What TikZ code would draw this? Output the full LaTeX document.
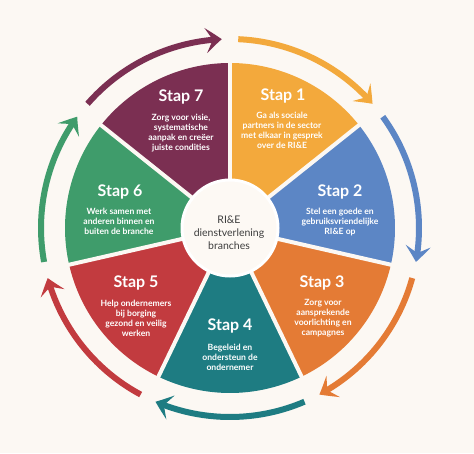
\documentclass[tikz,border=0pt]{standalone}
\usepackage{fontspec}
\setmainfont{Lato}
\usetikzlibrary{arrows.meta,bending}
\definecolor{bg}{HTML}{FCF8F3}
\definecolor{cfill}{HTML}{FDF9F4}
\definecolor{ctext}{HTML}{3D3D3D}
\definecolor{c1}{HTML}{F3A93C}
\definecolor{c2}{HTML}{5C86C5}
\definecolor{c3}{HTML}{E47B35}
\definecolor{c4}{HTML}{1E7C82}
\definecolor{c5}{HTML}{C23B3F}
\definecolor{c6}{HTML}{3F9C6B}
\definecolor{c7}{HTML}{7B2F52}
\begin{document}
\begin{tikzpicture}[x=1pt,y=1pt,
  steptitle/.style={text=white,font=\bfseries\fontsize{16}{18}\selectfont,inner sep=0pt,anchor=base},
  stepdesc/.style={text=white,font=\bfseries\fontsize{8.6}{10}\selectfont,align=center,inner sep=0pt},
  ring/.style={line width=6pt,-{Stealth[length=16pt,width=25pt,inset=7pt,bend]}}]
\useasboundingbox (0,0) rectangle (474,453);
\fill[bg] (0,0) rectangle (474,453);
\coordinate (C) at (230,225);
\def\R{165}
\def\Ra{189}
% sectors
\foreach \s/\c in {90/c1, 38.5714/c2, -12.8571/c3, -64.2857/c4, -115.7143/c5, -167.1429/c6, 141.4286/c7}{
  \fill[\c] (C) -- ([shift={(C)}]\s:\R) arc[start angle=\s, end angle=\s-51.4286, radius=\R] -- cycle;
}
% dividers
\foreach \s in {90, 38.5714, -12.8571, -64.2857, -115.7143, -167.1429, 141.4286}{
  \draw[bg, line width=4pt] (C) -- ([shift={(C)}]\s:\R+5);
}
% ring arrows
\foreach \s/\c in {90/c1, 38.5714/c2, -12.8571/c3, -64.2857/c4, -115.7143/c5, -167.1429/c6, 141.4286/c7}{
  \draw[ring,\c] ([shift={(C)}]\s-2.5:\Ra) arc[start angle=\s-2.5, end angle=\s-48.9286, radius=\Ra];
}
% centre
\node[circle, fill=cfill, draw=white, line width=3pt, minimum size=96pt, inner sep=0pt] (ctr) at (C) {};
\node[text=ctext, font=\fontsize{10.5}{13}\selectfont, align=center, inner sep=0pt] (ctxt) at (229,220) {RI\&E\\dienstverlening\\branches};
% titles
\node[steptitle] (t7) at (181,351.2) {Stap 7};
\node[steptitle] (t1) at (283,352.2) {Stap 1};
\node[steptitle] (t2) at (340,256.2) {Stap 2};
\node[steptitle] (t3) at (322,165.2) {Stap 3};
\node[steptitle] (t4) at (230,122.2) {Stap 4};
\node[steptitle] (t5) at (136,165.2) {Stap 5};
\node[steptitle] (t6) at (120,256.2) {Stap 6};
% descriptions
\node[stepdesc] (d7) at (181,320) {Zorg voor visie,\\systematische\\aanpak en creëer\\juiste condities};
\node[stepdesc] (d1) at (282,323) {Ga als sociale\\partners in de sector\\met elkaar in gesprek\\over de RI\&E};
\node[stepdesc] (d2) at (340,231) {Stel een goede en\\gebruiksvriendelijke\\RI\&E op};
\node[stepdesc] (d3) at (323,135) {Zorg voor\\aansprekende\\voorlichting en\\campagnes};
\node[stepdesc] (d4) at (230,96) {Begeleid en\\ondersteun de\\ondernemer};
\node[stepdesc] (d5) at (136,135) {Help ondernemers\\bij borging\\gezond en veilig\\werken};
\node[stepdesc] (d6) at (119,232) {Werk samen met\\anderen binnen en\\buiten de branche};
\end{tikzpicture}
\end{document}
